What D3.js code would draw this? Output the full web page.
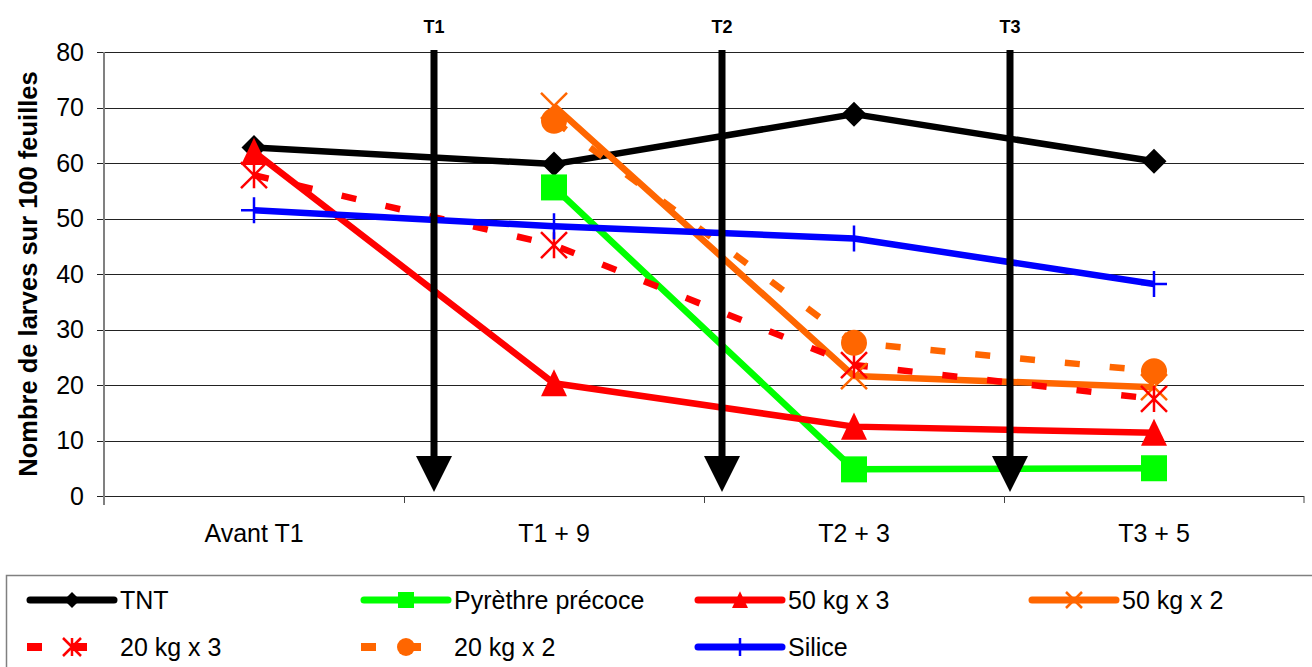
<!DOCTYPE html>
<html>
<head>
<meta charset="utf-8">
<script src="https://cdn.jsdelivr.net/npm/d3@7"></script>
<style>
  body { margin: 0; background: #fff; }
  svg { display: block; font-family: Arial, "Liberation Sans", sans-serif; }
</style>
</head>
<body>
<svg width="1312" height="667"></svg>
<script>
// Categories and values
const categories = ["Avant T1", "T1 + 9", "T2 + 3", "T3 + 5"];
const yTicks = [0, 10, 20, 30, 40, 50, 60, 70, 80];

const tnt      = [62.8, 59.8, 68.8, 60.3];
const pyrethre = [null, 55.6, 4.8, 5.0];
const kg50x3   = [62.0, 20.3, 12.5, 11.4];
const kg50x2   = [null, 70.3, 21.6, 19.6];
const kg20x3   = [57.8, 45.2, 23.6, 17.5];
const kg20x2   = [null, 67.6, 27.6, 22.5];
const silice   = [51.5, 48.6, 46.4, 38.2];

// treatment arrows, position in category units (0 = "Avant T1")
const arrowLabels = ["T1", "T2", "T3"];
const arrowPos = [0.6, 1.56, 2.52];

const series = [
  { name: "TNT", values: tnt, color: "#000000", marker: "diamond", dashed: false },
  { name: "Pyrèthre précoce", values: pyrethre, color: "#00ff00", marker: "square", dashed: false },
  { name: "50 kg x 3", values: kg50x3, color: "#ff0000", marker: "triangle", dashed: false },
  { name: "50 kg x 2", values: kg50x2, color: "#ff6600", marker: "x", dashed: false },
  { name: "20 kg x 3", values: kg20x3, color: "#ff0000", marker: "star", dashed: true },
  { name: "20 kg x 2", values: kg20x2, color: "#ff6600", marker: "circle", dashed: true },
  { name: "Silice", values: silice, color: "#0000ff", marker: "plus", dashed: false }
];

const margin = { top: 52, right: 8, bottom: 171, left: 104 };
const W = 1312, H = 667;
const svg = d3.select("svg");

const x = d3.scaleBand().domain(categories).range([margin.left, W - margin.right]).padding(0);
const xPos = d3.scaleLinear().domain([-0.5, 3.5]).range([margin.left, W - margin.right]);
const y = d3.scaleLinear().domain([0, 80]).range([H - margin.bottom, margin.top]);
const cx = c => x(c) + x.bandwidth() / 2;

// gridlines
svg.append("g")
  .selectAll("line")
  .data(yTicks)
  .join("line")
    .attr("x1", margin.left - 7)
    .attr("x2", W - margin.right)
    .attr("y1", d => Math.round(y(d)) + 0.5)
    .attr("y2", d => Math.round(y(d)) + 0.5)
    .attr("stroke", "#222")
    .attr("stroke-width", 1);

// y axis
const yAxis = svg.append("g")
  .attr("transform", `translate(${margin.left},0)`)
  .call(d3.axisLeft(y).tickValues(yTicks).tickSize(0).tickPadding(20));
yAxis.select(".domain").remove();
yAxis.selectAll("text").attr("font-size", 25).attr("fill", "#000").attr("font-family", "Arial, 'Liberation Sans', sans-serif");
svg.append("line")
  .attr("x1", margin.left).attr("x2", margin.left)
  .attr("y1", margin.top).attr("y2", y(0) + 9)
  .attr("stroke", "#808080").attr("stroke-width", 2);

// x axis
const xAxis = svg.append("g")
  .attr("transform", `translate(0,${y(0)})`)
  .call(d3.axisBottom(x).tickSize(0).tickPadding(28));
xAxis.select(".domain").remove();
xAxis.selectAll("text").attr("font-size", 25).attr("fill", "#000").attr("font-family", "Arial, 'Liberation Sans', sans-serif");
svg.append("g")
  .selectAll("line")
  .data(categories.slice(1).concat([null]))
  .join("line")
    .attr("x1", d => d ? Math.round(x(d)) + 0.5 : W - margin.right)
    .attr("x2", d => d ? Math.round(x(d)) + 0.5 : W - margin.right)
    .attr("y1", y(0)).attr("y2", y(0) + 7)
    .attr("stroke", "#444").attr("stroke-width", 1);

// y title
svg.append("text")
  .attr("transform", `translate(37,${(margin.top + y(0)) / 2}) rotate(-90)`)
  .attr("text-anchor", "middle")
  .attr("font-size", 25.5)
  .attr("font-weight", "bold")
  .text("Nombre de larves sur 100 feuilles");

// marker shapes
function markerPath(type, s) {
  switch (type) {
    case "diamond": return `M0,${-s}L${s},0L0,${s}L${-s},0Z`;
    case "square": return `M${-s},${-s}H${s}V${s}H${-s}Z`;
    case "triangle": return `M0,${-s * 1.08}L${s},${s}L${-s},${s}Z`;
    case "x": return `M${-s},${-s}L${s},${s}M${-s},${s}L${s},${-s}`;
    case "star": return `M${-s},${-s}L${s},${s}M${-s},${s}L${s},${-s}M0,${-s}V${s}`;
    case "plus": return `M0,${-s}V${s}M${-s},0H${s}`;
  }
  return "";
}
const filled = t => ["diamond", "square", "triangle"].includes(t);
function drawMarker(g, type, color, s) {
  if (type === "circle") {
    return g.append("circle").attr("r", s).attr("fill", color);
  }
  return g.append("path")
    .attr("d", markerPath(type, s))
    .attr("fill", filled(type) ? color : "none")
    .attr("stroke", filled(type) ? "none" : color)
    .attr("stroke-width", filled(type) ? 0 : 2.5);
}
const markerSize = { diamond: 12.5, square: 13, triangle: 13, x: 13, star: 13, circle: 13, plus: 13 };

const line = d3.line()
  .defined(d => d.v !== null)
  .x(d => cx(d.c))
  .y(d => y(d.v));

// series lines
series.forEach(s => {
  const pts = s.values.map((v, i) => ({ c: categories[i], v }));
  svg.append("path")
    .datum(pts)
    .attr("d", line)
    .attr("fill", "none")
    .attr("stroke", s.color)
    .attr("stroke-width", 6.5)
    .attr("stroke-linejoin", "round")
    .attr("stroke-dasharray", s.dashed ? "15,30" : null);
});

// series markers
series.forEach(s => {
  s.values.forEach((v, i) => {
    if (v === null) return;
    const g = svg.append("g").attr("transform", `translate(${cx(categories[i])},${y(v)})`);
    drawMarker(g, s.marker, s.color, markerSize[s.marker]);
  });
});

// treatment arrows
const arrows = svg.append("g");
arrowPos.forEach((p, i) => {
  const ax = xPos(p);
  arrows.append("line")
    .attr("x1", ax).attr("x2", ax)
    .attr("y1", margin.top - 2).attr("y2", y(0) - 36)
    .attr("stroke", "#000").attr("stroke-width", 7);
  arrows.append("path")
    .attr("d", `M${ax - 18},${y(0) - 40}L${ax + 18},${y(0) - 40}L${ax},${y(0) - 4}Z`)
    .attr("fill", "#000");
  arrows.append("text")
    .attr("x", ax).attr("y", 33)
    .attr("text-anchor", "middle")
    .attr("font-size", 18)
    .attr("font-weight", "bold")
    .text(arrowLabels[i]);
});

// legend
svg.append("rect")
  .attr("x", 6.5).attr("y", 575.5)
  .attr("width", W).attr("height", 120)
  .attr("fill", "#fff")
  .attr("stroke", "#808080").attr("stroke-width", 1.5);

const legendCols = [27, 361, 695, 1029];
const legendRows = [600, 647];
series.forEach((s, i) => {
  const lx = legendCols[i % 4], ly = legendRows[Math.floor(i / 4)];
  const g = svg.append("g").attr("transform", `translate(${lx},${ly})`);
  g.append("line")
    .attr("x1", s.dashed ? 0 : 3).attr("x2", s.dashed ? 90 : 87)
    .attr("stroke", s.color)
    .attr("stroke-width", s.dashed ? 8 : 7)
    .attr("stroke-linecap", s.dashed ? "butt" : "round")
    .attr("stroke-dasharray", s.dashed ? "15,30" : null);
  const mg = g.append("g").attr("transform", "translate(45,0)");
  const ms = { diamond: 8, square: 8, triangle: 8, x: 8, star: 9, circle: 9, plus: 9 }[s.marker];
  drawMarker(mg, s.marker, s.color, ms);
  g.append("text")
    .attr("x", 93).attr("y", 9)
    .attr("font-size", 25)
    .text(s.name);
});
</script>
</body>
</html>
